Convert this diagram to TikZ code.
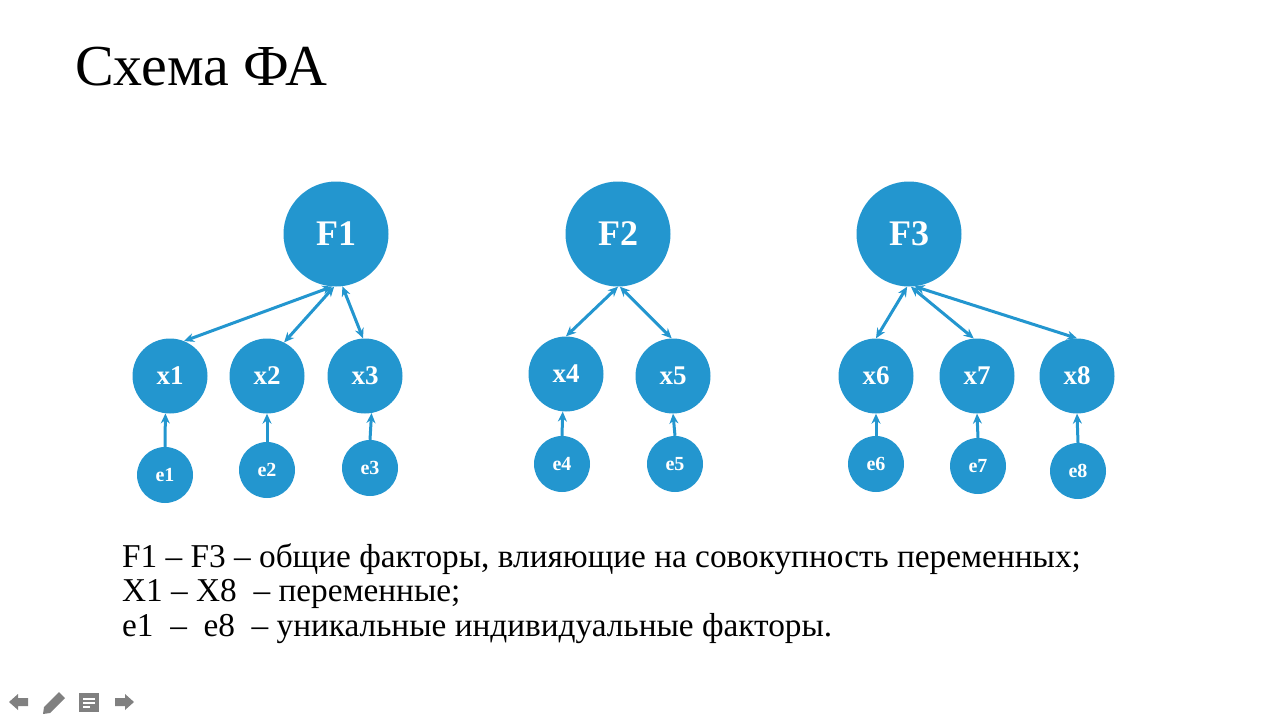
\documentclass[tikz,border=0pt]{standalone}
\usepackage{fontspec}
\setmainfont{Liberation Serif}
\usetikzlibrary{arrows.meta}
\definecolor{nodeblue}{RGB}{35,150,207}
\definecolor{icongray}{RGB}{128,128,128}
\tikzset{
  fac/.style={circle,fill=nodeblue,minimum size=105pt,inner sep=0pt,text=white,font=\fontsize{36}{36}\selectfont\bfseries},
  var/.style={circle,fill=nodeblue,minimum size=75pt,inner sep=0pt,text=white,font=\fontsize{27}{27}\selectfont\bfseries},
  err/.style={circle,fill=nodeblue,minimum size=56pt,inner sep=0pt,text=white,font=\fontsize{20}{20}\selectfont\bfseries},
  link/.style={draw=nodeblue,line width=3pt,{Stealth[length=10pt,width=9pt]}-{Stealth[length=10pt,width=9pt]}},
  load/.style={draw=nodeblue,line width=3pt,-{Stealth[length=10pt,width=9pt]}},
  body/.style={anchor=base west,inner sep=0pt,font=\fontsize{33.3}{33.3}\selectfont},
}
\begin{document}
\begin{tikzpicture}[x=1pt,y=-1pt]
\useasboundingbox (0,0) rectangle (1280,720);
\node[anchor=base west,inner sep=0pt,font=\fontsize{58}{58}\selectfont] (title) at (75,85) {Схема ФА};
% factors
\node[fac] (F1) at (336,234) {F1};
\node[fac] (F2) at (618,234) {F2};
\node[fac] (F3) at (909,234) {F3};
% variables
\node[var] (x1) at (170,376) {x1};
\node[var] (x2) at (267,376) {x2};
\node[var] (x3) at (365,376) {x3};
\node[var] (x4) at (566,374) {x4};
\node[var] (x5) at (673,376) {x5};
\node[var] (x6) at (876,376) {x6};
\node[var] (x7) at (977,376) {x7};
\node[var] (x8) at (1077,376) {x8};
% errors
\node[err] (e1) at (165,475) {e1};
\node[err] (e2) at (267,470) {e2};
\node[err] (e3) at (370,468) {e3};
\node[err] (e4) at (562,464) {e4};
\node[err] (e5) at (675,464) {e5};
\node[err] (e6) at (876,464) {e6};
\node[err] (e7) at (978,466) {e7};
\node[err] (e8) at (1078,471) {e8};
% factor links
\draw[link] (F1.266) -- (x1.68);
\draw[link] (F1.268) -- (x2.63);
\draw[link] (F1.277) -- (x3.93);
\draw[link] (F2.270) -- (x4.90);
\draw[link] (F2.272) -- (x5.92);
\draw[link] (F3.268) -- (x6.90);
\draw[link] (F3.272) -- (x7.95);
\draw[link] (F3.276) -- (x8.90);
% error links
\draw[load] (e1.90) -- (x1.263);
\draw[load] (e2.90) -- (x2.270);
\draw[load] (e3.90) -- (x3.280);
\draw[load] (e4.90) -- (x4.265);
\draw[load] (e5.90) -- (x5.270);
\draw[load] (e6.90) -- (x6.270);
\draw[load] (e7.90) -- (x7.270);
\draw[load] (e8.90) -- (x8.270);
% legend
\node[body] (l1) at (122,567) {F1 – F3 – общие факторы, влияющие на совокупность переменных;};
\node[body] (l2) at (122,601) {X1 – X8 \ – переменные;};
\node[body] (l3) at (122,636) {e1 \ – \ e8 \ – уникальные индивидуальные факторы.};
% navigation icons
\fill[icongray] (9,702) -- (18,694) -- (18,698) -- (28,698) -- (28,706) -- (18,706) -- (18,710) -- cycle;
\fill[icongray] (43,714) -- (44,707) -- (59,692) -- (65,698) -- (50,713) -- cycle;
\fill[icongray] (79,693) rectangle (99,712);
\draw[white,line width=1.5pt] (83,699) -- (95,699) (83,703) -- (95,703) (83,707) -- (90,707);
\fill[icongray] (134,702) -- (125,694) -- (125,698) -- (115,698) -- (115,706) -- (125,706) -- (125,710) -- cycle;
\end{tikzpicture}
\end{document}
